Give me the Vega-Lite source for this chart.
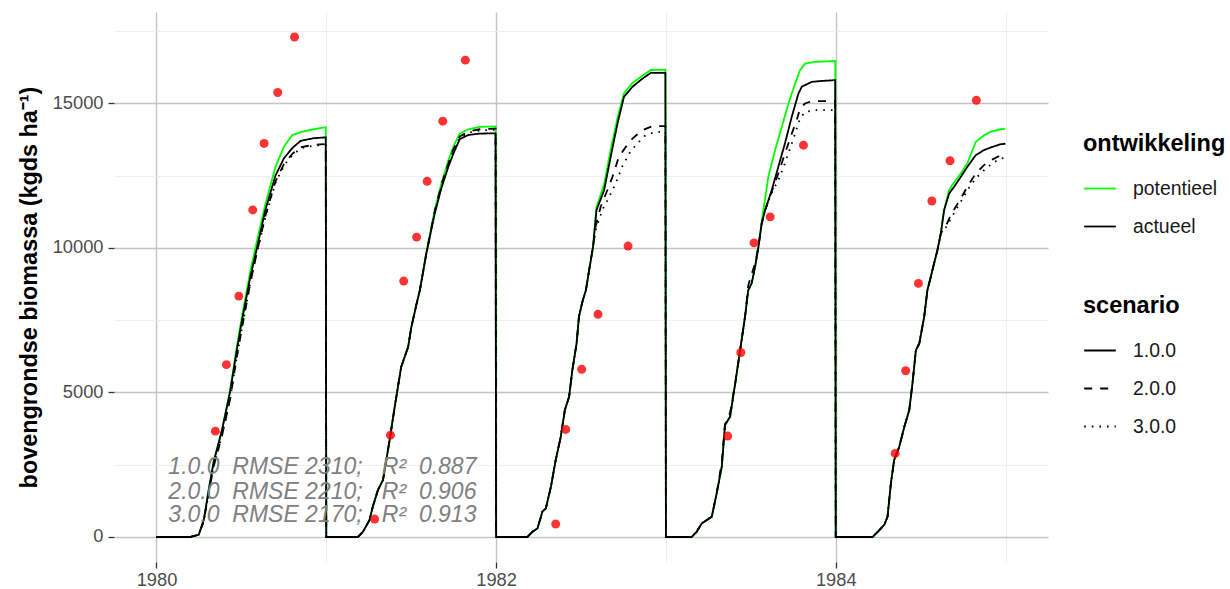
{
  "$schema": "https://vega.github.io/schema/vega-lite/v6.json",
  "autosize": {"type": "none"},
  "padding": {"left": 114, "top": 12, "right": 182, "bottom": 27},
  "width": 934,
  "height": 550,
  "background": "white",
  "config": {
    "font": "Liberation Sans",
    "view": {"stroke": null}
  },
  "datasets": {
    "potentieel": [
      {"t":1980.000,"kg":0},{"t":1980.200,"kg":0},{"t":1980.219,"kg":30},{"t":1980.249,"kg":80},{"t":1980.279,"kg":600},{"t":1980.307,"kg":1600},{"t":1980.337,"kg":2600},{"t":1980.386,"kg":3700},{"t":1980.433,"kg":5050},{"t":1980.474,"kg":6600},{"t":1980.504,"kg":7650},{"t":1980.553,"kg":9200},{"t":1980.592,"kg":10250},{"t":1980.641,"kg":11500},{"t":1980.701,"kg":12800},{"t":1980.751,"kg":13500},{"t":1980.800,"kg":13900},{"t":1980.849,"kg":14000},{"t":1980.926,"kg":14100},{"t":1980.997,"kg":14170},
      {"t":1981.000,"kg":0},{"t":1981.186,"kg":0},{"t":1981.216,"kg":180},{"t":1981.255,"kg":590},{"t":1981.274,"kg":1050},{"t":1981.304,"kg":1620},{"t":1981.334,"kg":1970},{"t":1981.373,"kg":3350},{"t":1981.403,"kg":4500},{"t":1981.441,"kg":5880},{"t":1981.482,"kg":6570},{"t":1981.501,"kg":7260},{"t":1981.532,"kg":8070},{"t":1981.551,"kg":8530},{"t":1981.589,"kg":9850},{"t":1981.638,"kg":11300},{"t":1981.679,"kg":12250},{"t":1981.718,"kg":13000},{"t":1981.748,"kg":13500},{"t":1981.786,"kg":13950},{"t":1981.836,"kg":14100},{"t":1981.904,"kg":14180},{"t":1981.997,"kg":14200},
      {"t":1982.000,"kg":0},{"t":1982.184,"kg":0},{"t":1982.214,"kg":180},{"t":1982.244,"kg":300},{"t":1982.273,"kg":880},{"t":1982.293,"kg":990},{"t":1982.323,"kg":1740},{"t":1982.351,"kg":2660},{"t":1982.381,"kg":3470},{"t":1982.405,"kg":4390},{"t":1982.430,"kg":4850},{"t":1982.449,"kg":5770},{"t":1982.474,"kg":6690},{"t":1982.488,"kg":7620},{"t":1982.508,"kg":8130},{"t":1982.529,"kg":8540},{"t":1982.548,"kg":9230},{"t":1982.571,"kg":10040},{"t":1982.591,"kg":11400},{"t":1982.636,"kg":12200},{"t":1982.675,"kg":13400},{"t":1982.715,"kg":14500},{"t":1982.753,"kg":15350},{"t":1982.803,"kg":15700},{"t":1982.862,"kg":15950},{"t":1982.911,"kg":16150},{"t":1982.997,"kg":16160},
      {"t":1983.000,"kg":0},{"t":1983.152,"kg":0},{"t":1983.181,"kg":180},{"t":1983.211,"kg":470},{"t":1983.270,"kg":700},{"t":1983.299,"kg":1510},{"t":1983.329,"kg":2430},{"t":1983.348,"kg":3870},{"t":1983.378,"kg":4160},{"t":1983.408,"kg":5310},{"t":1983.437,"kg":6460},{"t":1983.466,"kg":7620},{"t":1983.485,"kg":8540},{"t":1983.505,"kg":8770},{"t":1983.525,"kg":9340},{"t":1983.545,"kg":10040},{"t":1983.564,"kg":10900},{"t":1983.584,"kg":11700},{"t":1983.603,"kg":12450},{"t":1983.643,"kg":13380},{"t":1983.682,"kg":14180},{"t":1983.722,"kg":14990},{"t":1983.761,"kg":15680},{"t":1983.790,"kg":16140},{"t":1983.819,"kg":16370},{"t":1983.879,"kg":16430},{"t":1983.997,"kg":16460},
      {"t":1984.000,"kg":0},{"t":1984.217,"kg":0},{"t":1984.247,"kg":180},{"t":1984.286,"kg":420},{"t":1984.305,"kg":700},{"t":1984.325,"kg":1860},{"t":1984.344,"kg":2660},{"t":1984.374,"kg":3120},{"t":1984.404,"kg":3810},{"t":1984.433,"kg":4390},{"t":1984.452,"kg":5310},{"t":1984.472,"kg":6460},{"t":1984.492,"kg":6690},{"t":1984.521,"kg":7620},{"t":1984.540,"kg":8540},{"t":1984.560,"kg":9000},{"t":1984.579,"kg":9460},{"t":1984.599,"kg":9920},{"t":1984.619,"kg":10500},{"t":1984.638,"kg":11300},{"t":1984.667,"kg":11990},{"t":1984.686,"kg":12170},{"t":1984.736,"kg":12570},{"t":1984.775,"kg":12920},{"t":1984.824,"kg":13660},{"t":1984.873,"kg":13890},{"t":1984.910,"kg":14010},{"t":1984.970,"kg":14100},{"t":1984.999,"kg":14110}
    ],
    "actueel_1.0.0": [
      {"t":1980.000,"kg":0},{"t":1980.200,"kg":0},{"t":1980.219,"kg":30},{"t":1980.249,"kg":80},{"t":1980.279,"kg":600},{"t":1980.307,"kg":1600},{"t":1980.337,"kg":2600},{"t":1980.386,"kg":3700},{"t":1980.433,"kg":5000},{"t":1980.474,"kg":6500},{"t":1980.504,"kg":7500},{"t":1980.553,"kg":9000},{"t":1980.592,"kg":10000},{"t":1980.641,"kg":11300},{"t":1980.701,"kg":12500},{"t":1980.751,"kg":13100},{"t":1980.800,"kg":13450},{"t":1980.849,"kg":13700},{"t":1980.926,"kg":13790},{"t":1980.997,"kg":13820},
      {"t":1981.000,"kg":0},{"t":1981.186,"kg":0},{"t":1981.216,"kg":180},{"t":1981.255,"kg":590},{"t":1981.274,"kg":1050},{"t":1981.304,"kg":1620},{"t":1981.334,"kg":1970},{"t":1981.373,"kg":3350},{"t":1981.403,"kg":4500},{"t":1981.441,"kg":5880},{"t":1981.482,"kg":6570},{"t":1981.501,"kg":7260},{"t":1981.532,"kg":8070},{"t":1981.551,"kg":8530},{"t":1981.589,"kg":9790},{"t":1981.638,"kg":11170},{"t":1981.679,"kg":12090},{"t":1981.718,"kg":12790},{"t":1981.748,"kg":13250},{"t":1981.786,"kg":13760},{"t":1981.836,"kg":13900},{"t":1981.904,"kg":13950},{"t":1981.997,"kg":13960},
      {"t":1982.000,"kg":0},{"t":1982.184,"kg":0},{"t":1982.214,"kg":180},{"t":1982.244,"kg":300},{"t":1982.273,"kg":880},{"t":1982.293,"kg":990},{"t":1982.323,"kg":1740},{"t":1982.351,"kg":2660},{"t":1982.381,"kg":3470},{"t":1982.405,"kg":4390},{"t":1982.430,"kg":4850},{"t":1982.449,"kg":5770},{"t":1982.474,"kg":6690},{"t":1982.488,"kg":7620},{"t":1982.508,"kg":8130},{"t":1982.529,"kg":8540},{"t":1982.548,"kg":9230},{"t":1982.571,"kg":10040},{"t":1982.591,"kg":11300},{"t":1982.636,"kg":11990},{"t":1982.675,"kg":13150},{"t":1982.715,"kg":14300},{"t":1982.753,"kg":15220},{"t":1982.803,"kg":15570},{"t":1982.862,"kg":15850},{"t":1982.911,"kg":16050},{"t":1982.997,"kg":16050},
      {"t":1983.000,"kg":0},{"t":1983.152,"kg":0},{"t":1983.181,"kg":180},{"t":1983.211,"kg":470},{"t":1983.270,"kg":700},{"t":1983.299,"kg":1510},{"t":1983.329,"kg":2430},{"t":1983.348,"kg":3870},{"t":1983.378,"kg":4160},{"t":1983.408,"kg":5310},{"t":1983.437,"kg":6460},{"t":1983.466,"kg":7620},{"t":1983.485,"kg":8540},{"t":1983.505,"kg":8770},{"t":1983.525,"kg":9340},{"t":1983.545,"kg":10040},{"t":1983.564,"kg":10840},{"t":1983.584,"kg":11300},{"t":1983.623,"kg":11990},{"t":1983.662,"kg":12800},{"t":1983.701,"kg":13610},{"t":1983.741,"kg":14530},{"t":1983.780,"kg":15330},{"t":1983.800,"kg":15570},{"t":1983.859,"kg":15740},{"t":1983.918,"kg":15770},{"t":1983.997,"kg":15800},
      {"t":1984.000,"kg":0},{"t":1984.217,"kg":0},{"t":1984.247,"kg":180},{"t":1984.286,"kg":420},{"t":1984.305,"kg":700},{"t":1984.325,"kg":1860},{"t":1984.344,"kg":2660},{"t":1984.374,"kg":3120},{"t":1984.404,"kg":3810},{"t":1984.433,"kg":4390},{"t":1984.452,"kg":5310},{"t":1984.472,"kg":6460},{"t":1984.492,"kg":6690},{"t":1984.521,"kg":7620},{"t":1984.540,"kg":8540},{"t":1984.560,"kg":9000},{"t":1984.579,"kg":9460},{"t":1984.599,"kg":9920},{"t":1984.619,"kg":10500},{"t":1984.638,"kg":11300},{"t":1984.668,"kg":11880},{"t":1984.697,"kg":12110},{"t":1984.736,"kg":12450},{"t":1984.775,"kg":12800},{"t":1984.824,"kg":13200},{"t":1984.873,"kg":13380},{"t":1984.922,"kg":13490},{"t":1984.970,"kg":13580},{"t":1984.999,"kg":13600}
    ],
    "actueel_2.0.0": [
      {"t":1980.000,"kg":0},{"t":1980.200,"kg":0},{"t":1980.219,"kg":30},{"t":1980.249,"kg":80},{"t":1980.279,"kg":550},{"t":1980.307,"kg":1500},{"t":1980.337,"kg":2450},{"t":1980.386,"kg":3500},{"t":1980.433,"kg":4750},{"t":1980.474,"kg":6250},{"t":1980.504,"kg":7250},{"t":1980.553,"kg":8800},{"t":1980.592,"kg":9850},{"t":1980.641,"kg":11100},{"t":1980.701,"kg":12300},{"t":1980.751,"kg":12900},{"t":1980.800,"kg":13250},{"t":1980.849,"kg":13480},{"t":1980.926,"kg":13560},{"t":1980.997,"kg":13590},
      {"t":1981.000,"kg":0},{"t":1981.186,"kg":0},{"t":1981.216,"kg":180},{"t":1981.255,"kg":590},{"t":1981.274,"kg":1050},{"t":1981.304,"kg":1620},{"t":1981.334,"kg":1970},{"t":1981.373,"kg":3350},{"t":1981.403,"kg":4500},{"t":1981.441,"kg":5880},{"t":1981.482,"kg":6570},{"t":1981.501,"kg":7260},{"t":1981.532,"kg":8070},{"t":1981.551,"kg":8530},{"t":1981.589,"kg":9790},{"t":1981.638,"kg":11250},{"t":1981.679,"kg":12200},{"t":1981.718,"kg":12900},{"t":1981.748,"kg":13400},{"t":1981.786,"kg":13850},{"t":1981.836,"kg":14020},{"t":1981.904,"kg":14100},{"t":1981.997,"kg":14120},
      {"t":1982.000,"kg":0},{"t":1982.184,"kg":0},{"t":1982.214,"kg":180},{"t":1982.244,"kg":300},{"t":1982.273,"kg":880},{"t":1982.293,"kg":990},{"t":1982.323,"kg":1740},{"t":1982.351,"kg":2660},{"t":1982.381,"kg":3470},{"t":1982.405,"kg":4390},{"t":1982.430,"kg":4850},{"t":1982.449,"kg":5770},{"t":1982.474,"kg":6690},{"t":1982.488,"kg":7620},{"t":1982.508,"kg":8130},{"t":1982.529,"kg":8540},{"t":1982.548,"kg":9230},{"t":1982.571,"kg":10040},{"t":1982.586,"kg":10730},{"t":1982.616,"kg":11420},{"t":1982.655,"kg":11990},{"t":1982.685,"kg":12450},{"t":1982.723,"kg":13150},{"t":1982.764,"kg":13490},{"t":1982.803,"kg":13780},{"t":1982.862,"kg":14070},{"t":1982.921,"kg":14210},{"t":1982.997,"kg":14210},
      {"t":1983.000,"kg":0},{"t":1983.152,"kg":0},{"t":1983.181,"kg":180},{"t":1983.211,"kg":470},{"t":1983.270,"kg":700},{"t":1983.299,"kg":1510},{"t":1983.329,"kg":2600},{"t":1983.348,"kg":3900},{"t":1983.378,"kg":4300},{"t":1983.408,"kg":5310},{"t":1983.437,"kg":6460},{"t":1983.466,"kg":7620},{"t":1983.485,"kg":8700},{"t":1983.505,"kg":9100},{"t":1983.525,"kg":9450},{"t":1983.545,"kg":10040},{"t":1983.564,"kg":10840},{"t":1983.584,"kg":11300},{"t":1983.623,"kg":11950},{"t":1983.662,"kg":12570},{"t":1983.701,"kg":13260},{"t":1983.741,"kg":13950},{"t":1983.770,"kg":14410},{"t":1983.790,"kg":14820},{"t":1983.819,"kg":14990},{"t":1983.858,"kg":15070},{"t":1983.997,"kg":15080},
      {"t":1984.000,"kg":0},{"t":1984.217,"kg":0},{"t":1984.247,"kg":180},{"t":1984.286,"kg":420},{"t":1984.305,"kg":700},{"t":1984.325,"kg":1860},{"t":1984.344,"kg":2660},{"t":1984.374,"kg":3120},{"t":1984.404,"kg":3810},{"t":1984.433,"kg":4390},{"t":1984.452,"kg":5310},{"t":1984.472,"kg":6460},{"t":1984.492,"kg":6690},{"t":1984.521,"kg":7620},{"t":1984.540,"kg":8540},{"t":1984.560,"kg":9000},{"t":1984.579,"kg":9460},{"t":1984.599,"kg":9920},{"t":1984.619,"kg":10500},{"t":1984.648,"kg":10750},{"t":1984.678,"kg":11130},{"t":1984.707,"kg":11420},{"t":1984.736,"kg":11700},{"t":1984.775,"kg":12110},{"t":1984.824,"kg":12570},{"t":1984.873,"kg":12860},{"t":1984.922,"kg":13050},{"t":1984.970,"kg":13200},{"t":1984.999,"kg":13230}
    ],
    "actueel_3.0.0": [
      {"t":1980.000,"kg":0},{"t":1980.200,"kg":0},{"t":1980.219,"kg":30},{"t":1980.249,"kg":80},{"t":1980.279,"kg":550},{"t":1980.307,"kg":1500},{"t":1980.337,"kg":2450},{"t":1980.386,"kg":3500},{"t":1980.433,"kg":4750},{"t":1980.474,"kg":6250},{"t":1980.504,"kg":7250},{"t":1980.553,"kg":8800},{"t":1980.592,"kg":9850},{"t":1980.641,"kg":11050},{"t":1980.701,"kg":12250},{"t":1980.751,"kg":12850},{"t":1980.800,"kg":13200},{"t":1980.849,"kg":13440},{"t":1980.926,"kg":13530},{"t":1980.997,"kg":13560},
      {"t":1981.000,"kg":0},{"t":1981.186,"kg":0},{"t":1981.216,"kg":180},{"t":1981.255,"kg":590},{"t":1981.274,"kg":1050},{"t":1981.304,"kg":1620},{"t":1981.334,"kg":1970},{"t":1981.373,"kg":3350},{"t":1981.403,"kg":4500},{"t":1981.441,"kg":5880},{"t":1981.482,"kg":6570},{"t":1981.501,"kg":7260},{"t":1981.532,"kg":8070},{"t":1981.551,"kg":8530},{"t":1981.589,"kg":9790},{"t":1981.638,"kg":11200},{"t":1981.679,"kg":12150},{"t":1981.718,"kg":12850},{"t":1981.748,"kg":13350},{"t":1981.786,"kg":13800},{"t":1981.836,"kg":13980},{"t":1981.904,"kg":14060},{"t":1981.997,"kg":14080},
      {"t":1982.000,"kg":0},{"t":1982.184,"kg":0},{"t":1982.214,"kg":180},{"t":1982.244,"kg":300},{"t":1982.273,"kg":880},{"t":1982.293,"kg":990},{"t":1982.323,"kg":1740},{"t":1982.351,"kg":2660},{"t":1982.381,"kg":3470},{"t":1982.405,"kg":4390},{"t":1982.430,"kg":4850},{"t":1982.449,"kg":5770},{"t":1982.474,"kg":6690},{"t":1982.488,"kg":7620},{"t":1982.508,"kg":8130},{"t":1982.529,"kg":8540},{"t":1982.548,"kg":9230},{"t":1982.571,"kg":10040},{"t":1982.586,"kg":10610},{"t":1982.625,"kg":11300},{"t":1982.666,"kg":11760},{"t":1982.704,"kg":12220},{"t":1982.742,"kg":12800},{"t":1982.784,"kg":13260},{"t":1982.822,"kg":13550},{"t":1982.879,"kg":13890},{"t":1982.940,"kg":14010},{"t":1982.997,"kg":14010},
      {"t":1983.000,"kg":0},{"t":1983.152,"kg":0},{"t":1983.181,"kg":180},{"t":1983.211,"kg":470},{"t":1983.270,"kg":700},{"t":1983.299,"kg":1510},{"t":1983.329,"kg":2430},{"t":1983.348,"kg":3870},{"t":1983.378,"kg":4160},{"t":1983.408,"kg":5310},{"t":1983.437,"kg":6460},{"t":1983.466,"kg":7620},{"t":1983.485,"kg":8540},{"t":1983.505,"kg":8770},{"t":1983.525,"kg":9340},{"t":1983.545,"kg":10040},{"t":1983.564,"kg":10840},{"t":1983.584,"kg":11300},{"t":1983.623,"kg":11900},{"t":1983.662,"kg":12340},{"t":1983.701,"kg":12920},{"t":1983.741,"kg":13610},{"t":1983.770,"kg":14120},{"t":1983.790,"kg":14470},{"t":1983.819,"kg":14700},{"t":1983.877,"kg":14760},{"t":1983.997,"kg":14760},
      {"t":1984.000,"kg":0},{"t":1984.217,"kg":0},{"t":1984.247,"kg":180},{"t":1984.286,"kg":420},{"t":1984.305,"kg":700},{"t":1984.325,"kg":1860},{"t":1984.344,"kg":2660},{"t":1984.374,"kg":3120},{"t":1984.404,"kg":3810},{"t":1984.433,"kg":4390},{"t":1984.452,"kg":5310},{"t":1984.472,"kg":6460},{"t":1984.492,"kg":6690},{"t":1984.521,"kg":7620},{"t":1984.540,"kg":8540},{"t":1984.560,"kg":9000},{"t":1984.579,"kg":9460},{"t":1984.599,"kg":9920},{"t":1984.619,"kg":10500},{"t":1984.648,"kg":10700},{"t":1984.678,"kg":11010},{"t":1984.707,"kg":11300},{"t":1984.736,"kg":11590},{"t":1984.775,"kg":11990},{"t":1984.824,"kg":12400},{"t":1984.873,"kg":12680},{"t":1984.922,"kg":12920},{"t":1984.970,"kg":13090},{"t":1984.999,"kg":13110}
    ],
    "waarnemingen": [
      {"t":1980.347,"kg":3660},{"t":1980.412,"kg":5960},{"t":1980.485,"kg":8330},{"t":1980.567,"kg":11310},{"t":1980.634,"kg":13610},{"t":1980.714,"kg":15370},{"t":1980.813,"kg":17290},
      {"t":1981.285,"kg":620},{"t":1981.378,"kg":3520},{"t":1981.456,"kg":8850},{"t":1981.532,"kg":10370},{"t":1981.594,"kg":12300},{"t":1981.686,"kg":14380},{"t":1981.819,"kg":16490},
      {"t":1982.351,"kg":450},{"t":1982.410,"kg":3720},{"t":1982.504,"kg":5800},{"t":1982.600,"kg":7700},{"t":1982.777,"kg":10060},
      {"t":1983.364,"kg":3490},{"t":1983.441,"kg":6380},{"t":1983.519,"kg":10170},{"t":1983.614,"kg":11070},{"t":1983.810,"kg":13550},
      {"t":1984.350,"kg":2890},{"t":1984.412,"kg":5750},{"t":1984.487,"kg":8770},{"t":1984.566,"kg":11620},{"t":1984.673,"kg":13010},{"t":1984.828,"kg":15100}
    ],
    "statistiek": [
      {"t":1980.07,"kg":2436,"label":"1.0.0\u00a0\u00a0RMSE 2310;\u00a0\u00a0\u00a0R²\u00a0\u00a00.887"},
      {"t":1980.07,"kg":1572,"label":"2.0.0\u00a0\u00a0RMSE 2210;\u00a0\u00a0\u00a0R²\u00a0\u00a00.906"},
      {"t":1980.07,"kg":760,"label":"3.0.0\u00a0\u00a0RMSE 2170;\u00a0\u00a0\u00a0R²\u00a0\u00a00.913"}
    ]
  },
  "encoding": {
    "x": {
      "field": "t",
      "type": "quantitative",
      "scale": {"domain": [1979.75, 1985.25], "nice": false, "zero": false},
      "axis": {
        "title": null,
        "values": [1980, 1981, 1982, 1983, 1984, 1985],
        "format": "d",
        "labelExpr": "datum.value % 2 == 0 ? datum.label : ''",
        "domain": false,
        "grid": true,
        "gridColor": {"condition": {"test": "datum.value % 2 == 0", "value": "#c4c4c4"}, "value": "#eeeeee"},
        "gridWidth": {"condition": {"test": "datum.value % 2 == 0", "value": 1.4}, "value": 0.9},
        "tickColor": {"condition": {"test": "datum.value % 2 == 0", "value": "#333333"}, "value": "transparent"},
        "tickSize": 6,
        "tickWidth": 1.3,
        "labelFontSize": 18.3,
        "labelColor": "#4d4d4d",
        "labelPadding": 3,
        "labelFlush": false,
        "labelOverlap": false
      }
    },
    "y": {
      "field": "kg",
      "type": "quantitative",
      "scale": {"domain": [-865, 18155], "nice": false, "zero": false},
      "axis": {
        "title": "bovengrondse biomassa (kgds ha⁻¹)",
        "titleFontSize": 23.4,
        "titleFontWeight": "bold",
        "titleColor": "black",
        "titleX": -85,
        "titleY": 275,
        "titleAngle": 270,
        "titleAlign": "center",
        "titleBaseline": "middle",
        "values": [0, 2500, 5000, 7500, 10000, 12500, 15000, 17500],
        "format": "d",
        "labelExpr": "datum.value % 5000 == 0 ? datum.label : ''",
        "domain": false,
        "grid": true,
        "gridColor": {"condition": {"test": "datum.value % 5000 == 0", "value": "#c4c4c4"}, "value": "#eeeeee"},
        "gridWidth": {"condition": {"test": "datum.value % 5000 == 0", "value": 1.4}, "value": 0.9},
        "tickColor": {"condition": {"test": "datum.value % 5000 == 0", "value": "#333333"}, "value": "transparent"},
        "tickSize": 6,
        "tickWidth": 1.3,
        "labelFontSize": 18.3,
        "labelColor": "#4d4d4d",
        "labelPadding": 5,
        "labelOverlap": false
      }
    }
  },
  "layer": [
    {
      "data": {"name": "potentieel"},
      "mark": {"type": "line", "strokeWidth": 1.8, "strokeCap": "butt"},
      "encoding": {
        "color": {
          "datum": "potentieel",
          "type": "nominal",
          "scale": {"domain": ["potentieel", "actueel"], "range": ["#00ff00", "#000000"]},
          "legend": {
            "orient": "none",
            "legendX": 969,
            "legendY": 120,
            "title": "ontwikkeling",
            "titleFontSize": 23.5,
            "titleFontWeight": "bold",
            "titleColor": "black",
            "titlePadding": 16,
            "labelFontSize": 19.4,
            "labelColor": "#1a1a1a",
            "labelOffset": 16,
            "symbolType": "stroke",
            "symbolSize": 1000,
            "symbolStrokeWidth": 1.8,
            "rowPadding": 11
          }
        }
      }
    },
    {
      "data": {"name": "actueel_3.0.0"},
      "mark": {"type": "line", "strokeWidth": 1.8, "strokeCap": "butt"},
      "encoding": {
        "color": {"datum": "actueel", "type": "nominal"},
        "strokeDash": {"datum": "3.0.0", "type": "nominal"}
      }
    },
    {
      "data": {"name": "actueel_2.0.0"},
      "mark": {"type": "line", "strokeWidth": 1.8, "strokeCap": "butt"},
      "encoding": {
        "color": {"datum": "actueel", "type": "nominal"},
        "strokeDash": {"datum": "2.0.0", "type": "nominal"}
      }
    },
    {
      "data": {"name": "actueel_1.0.0"},
      "mark": {"type": "line", "strokeWidth": 1.8, "strokeCap": "butt"},
      "encoding": {
        "color": {"datum": "actueel", "type": "nominal"},
        "strokeDash": {
          "datum": "1.0.0",
          "type": "nominal",
          "scale": {"domain": ["1.0.0", "2.0.0", "3.0.0"], "range": [[1, 0], [8, 8], [1.6, 6]]},
          "legend": {
            "orient": "none",
            "legendX": 969,
            "legendY": 282,
            "title": "scenario",
            "titleFontSize": 23.5,
            "titleFontWeight": "bold",
            "titleColor": "black",
            "titlePadding": 16,
            "labelFontSize": 19.4,
            "labelColor": "#1a1a1a",
            "labelOffset": 16,
            "symbolType": "stroke",
            "symbolSize": 1000,
            "symbolStrokeWidth": 1.8,
            "symbolStrokeColor": "black",
            "rowPadding": 11
          }
        }
      }
    },
    {
      "data": {"name": "waarnemingen"},
      "mark": {"type": "point", "filled": true, "color": "#ff0000", "opacity": 0.8, "size": 80, "strokeWidth": 0}
    },
    {
      "data": {"name": "statistiek"},
      "mark": {"type": "text", "align": "left", "baseline": "middle", "fontSize": 23, "fontStyle": "italic", "color": "#808080", "font": "Liberation Sans"},
      "encoding": {"text": {"field": "label", "type": "nominal"}}
    }
  ]
}
